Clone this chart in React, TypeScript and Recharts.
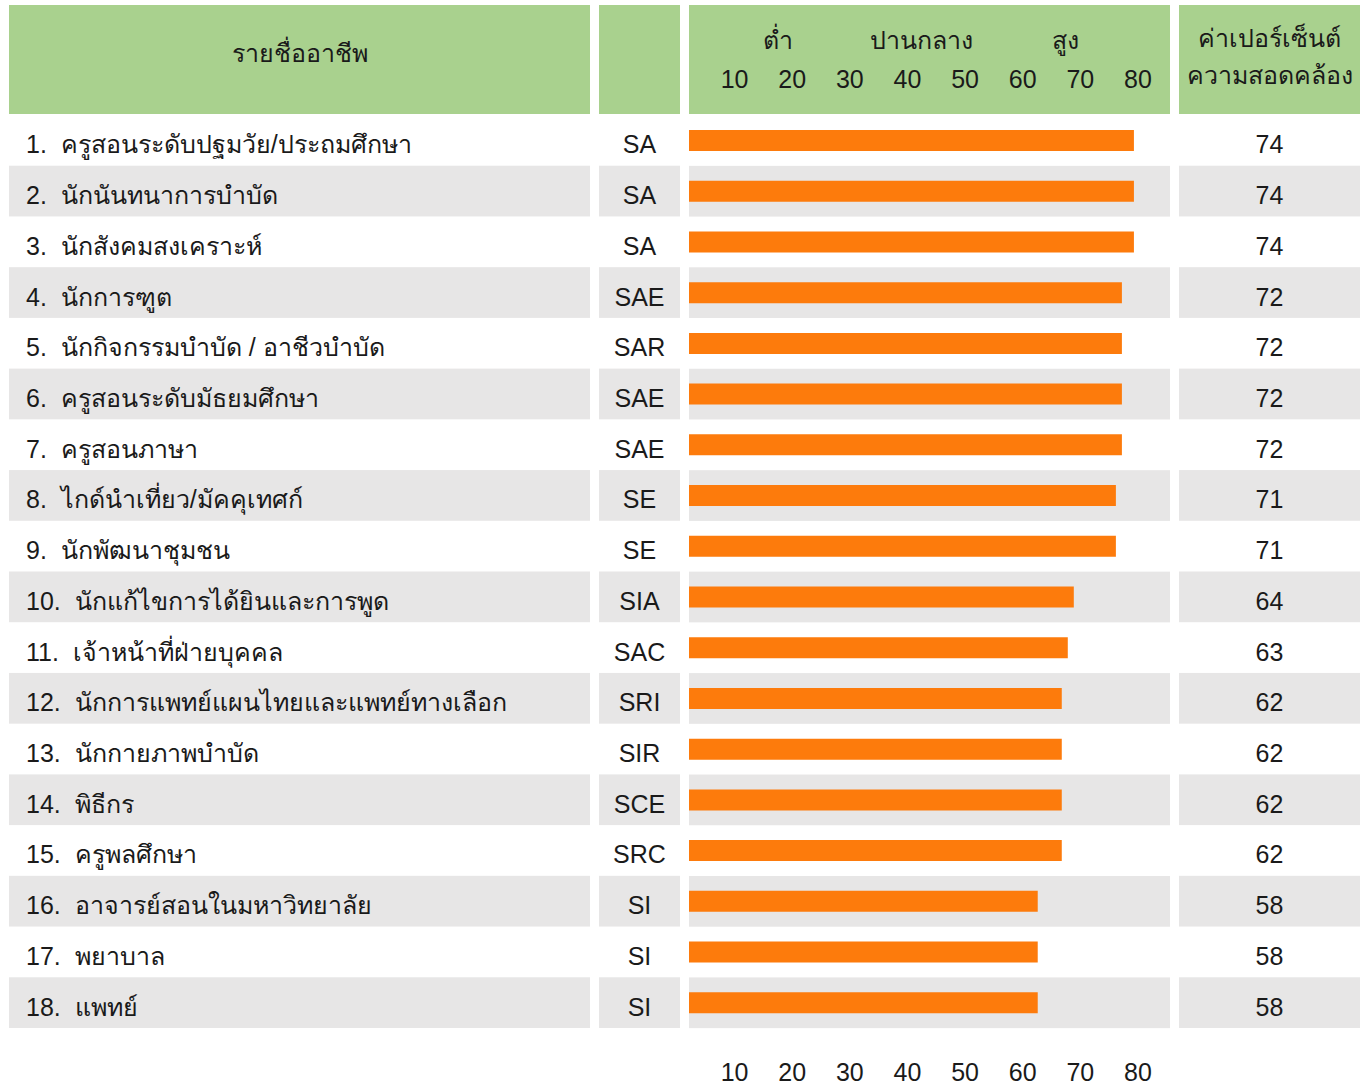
import { Bar, BarChart, XAxis, YAxis } from "recharts";

const occupations = [
  "ครูสอนระดับปฐมวัย/ประถมศึกษา",
  "นักนันทนาการบำบัด",
  "นักสังคมสงเคราะห์",
  "นักการฑูต",
  "นักกิจกรรมบำบัด / อาชีวบำบัด",
  "ครูสอนระดับมัธยมศึกษา",
  "ครูสอนภาษา",
  "ไกด์นำเที่ยว/มัคคุเทศก์",
  "นักพัฒนาชุมชน",
  "นักแก้ไขการได้ยินและการพูด",
  "เจ้าหน้าที่ฝ่ายบุคคล",
  "นักการแพทย์แผนไทยและแพทย์ทางเลือก",
  "นักกายภาพบำบัด",
  "พิธีกร",
  "ครูพลศึกษา",
  "อาจารย์สอนในมหาวิทยาลัย",
  "พยาบาล",
  "แพทย์",
];

const codes = [
  "SA", "SA", "SA", "SAE", "SAR", "SAE", "SAE", "SE", "SE",
  "SIA", "SAC", "SRI", "SIR", "SCE", "SRC", "SI", "SI", "SI",
];

const percents = [74, 74, 74, 72, 72, 72, 72, 71, 71, 64, 63, 62, 62, 62, 62, 58, 58, 58];

const scaleTicks = [10, 20, 30, 40, 50, 60, 70, 80];
const levelTicks = [17.5, 42.5, 67.5];
const levelLabels = ["ต่ำ", "ปานกลาง", "สูง"];

const data = occupations.map((name, i) => ({
  label: `${i + 1}.  ${name}`,
  code: codes[i],
  value: percents[i],
}));

const FONT = '"Liberation Sans", "Noto Sans", Arial, sans-serif';
const TEXT = "#1a1a1a";
const GREEN = "#a9d18e";
const GRAY = "#e7e6e6";
const ORANGE = "#fd7b0c";

const W = 1363;
const H = 1085;
const PLOT_TOP = 115;
const PLOT_BOTTOM = 1028;
const ROW_H = (PLOT_BOTTOM - PLOT_TOP) / data.length;

// column edges
const NAME_COL = [9, 590];
const CODE_COL = [599, 680];
const BAR_COL = [689, 1170];
const PCT_COL = [1179, 1360];

function RowTick(props: any) {
  const { y, payload } = props;
  const i = data.findIndex((d) => d.label === payload.value);
  const row = data[i];
  if (!row) return <g />;
  const top = y - ROW_H / 2;
  const striped = i % 2 === 1;
  const textProps = {
    fontFamily: FONT,
    fontSize: 25,
    fill: TEXT,
    dominantBaseline: "central" as const,
  };
  return (
    <g>
      {striped &&
        [NAME_COL, CODE_COL, PCT_COL].map(([a, b]) => (
          <rect key={a} x={a} y={top} width={b - a} height={ROW_H} fill={GRAY} />
        ))}
      <text {...textProps} x={26} y={y + 4} textAnchor="start" style={{ whiteSpace: "pre" }}>
        {row.label}
      </text>
      <text {...textProps} x={(CODE_COL[0] + CODE_COL[1]) / 2} y={y + 4} textAnchor="middle">
        {row.code}
      </text>
      <text {...textProps} x={(PCT_COL[0] + PCT_COL[1]) / 2} y={y + 4} textAnchor="middle">
        {row.value}
      </text>
    </g>
  );
}

function RowBackground(props: any) {
  const { index, y, height } = props;
  if (index % 2 === 0) return <g />;
  const mid = y + height / 2;
  return (
    <rect
      x={BAR_COL[0]}
      y={mid - ROW_H / 2}
      width={BAR_COL[1] - BAR_COL[0]}
      height={ROW_H}
      fill={GRAY}
    />
  );
}

function Header() {
  const t = { fontFamily: FONT, fontSize: 25, fill: TEXT, textAnchor: "middle" as const };
  return (
    <svg width={W} height={H} style={{ position: "absolute", left: 0, top: 0 }}>
      {[NAME_COL, CODE_COL, BAR_COL, PCT_COL].map(([a, b]) => (
        <rect key={a} x={a} y={5} width={b - a} height={109} fill={GREEN} />
      ))}
      <text {...t} x={(NAME_COL[0] + NAME_COL[1]) / 2} y={62}>
        รายชื่ออาชีพ
      </text>
      <text {...t} x={(PCT_COL[0] + PCT_COL[1]) / 2} y={47}>
        ค่าเปอร์เซ็นต์
      </text>
      <text {...t} x={(PCT_COL[0] + PCT_COL[1]) / 2} y={84}>
        ความสอดคล้อง
      </text>
    </svg>
  );
}

const tickStyle = { fontFamily: FONT, fontSize: 25, fill: TEXT };

export default function App() {
  return (
    <div style={{ position: "absolute", left: 0, top: 0, width: W, height: H, background: "#fff" }}>
      <Header />
      <div style={{ position: "absolute", left: 0, top: 0 }}>
        <BarChart
          width={W}
          height={H}
          data={data}
          layout="vertical"
          margin={{ top: PLOT_TOP - 2, right: W - BAR_COL[1], bottom: H - PLOT_BOTTOM - 1, left: BAR_COL[0] - 1 }}
          barCategoryGap={0}
        >
          <XAxis xAxisId="bar" type="number" domain={[0, 80]} height={0} hide />
          <XAxis
            xAxisId="top"
            orientation="top"
            type="number"
            domain={[2.1, 85.55]}
            allowDataOverflow
            ticks={scaleTicks}
            height={1}
            axisLine={false}
            tickLine={false}
            tickSize={0}
            tickMargin={26}
            tick={tickStyle}
          />
          <XAxis
            xAxisId="levels"
            orientation="top"
            type="number"
            domain={[2.1, 85.55]}
            allowDataOverflow
            ticks={levelTicks}
            tickFormatter={(v: number) => levelLabels[levelTicks.indexOf(v)]}
            height={1}
            axisLine={false}
            tickLine={false}
            tickSize={0}
            tickMargin={66}
            tick={tickStyle}
          />
          <XAxis
            xAxisId="bottom"
            orientation="bottom"
            type="number"
            domain={[2.1, 85.55]}
            allowDataOverflow
            ticks={scaleTicks}
            height={1}
            axisLine={false}
            tickLine={false}
            tickSize={0}
            tickMargin={35}
            tick={tickStyle}
          />
          <YAxis
            yAxisId="rows"
            type="category"
            dataKey="label"
            width={1}
            interval={0}
            axisLine={false}
            tickLine={false}
            tick={<RowTick />}
          />
          <Bar
            xAxisId="bar"
            yAxisId="rows"
            dataKey="value"
            fill={ORANGE}
            barSize={21}
            background={RowBackground}
            isAnimationActive={false}
          />
        </BarChart>
      </div>
    </div>
  );
}
